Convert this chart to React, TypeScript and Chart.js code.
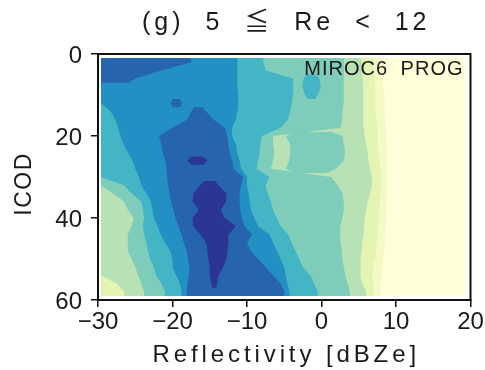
import { useEffect, useRef } from 'react';
import { Chart, registerables } from 'chart.js';

Chart.register(...registerables);

// ---- data -------------------------------------------------------------
const TITLE = '(g) 5 \u2266 Re < 12';
const X_LABEL = 'Reflectivity [dBZe]';
const Y_LABEL = 'ICOD';
const PANEL_LABEL = 'MIROC6 PROG';

const X_TICKS = [-30, -20, -10, 0, 10, 20];
const Y_TICKS = [0, 20, 40, 60];

// frequency class colours, lowest (0) to highest (8)
const LEVEL_COLORS = [
  '#ffffd9',
  '#f4fac6',
  '#e4f4b2',
  '#b8e2b5',
  '#7ecdbb',
  '#44b5c5',
  '#2390c3',
  '#2664ad',
  '#2a3594',
];

// extent of the gridded data in dBZe
const X_DATA_MIN = -29.6;
const X_DATA_MAX = 19.3;

// ICOD row centres (each row spans +-1)
const ROW_ICOD = [2, 4, 6, 8, 10, 12, 14, 16, 18, 20, 22, 24, 26, 28, 30, 32, 34, 36, 38, 40, 42, 44, 46, 48, 50, 52, 54, 56, 58];
const ROW_HALF = 1;

// per row: class, break (dBZe), class, break, ... , class
const ROW_RUNS = [
  '7 -17.5 6 -11.3 5 -7.8 4 3 3 5.4 2 7 1 8 0',
  '7 -21.5 6 -11.3 5 -7.5 4 3 3 5.5 2 7 1 8 0',
  '7 -25 6 -11.3 5 -3.8 4 -2.4 5 -0.3 4 3 3 5.5 2 7.1 1 8.2 0',
  '6 -11.3 5 -3.8 4 -2.6 5 -0.1 4 3 3 5.6 2 7.2 1 8.3 0',
  '6 -11.2 5 -3.8 4 -2.2 5 -0.5 4 3 3 5.6 2 7.2 1 8.4 0',
  '6 -20.3 7 -18.7 6 -11.2 5 -4 4 3 3 5.6 2 7.3 1 8.5 0',
  '5 -28.3 6 -17.5 7 -15.5 6 -11.3 5 -4.2 4 2.8 3 5.6 2 7.3 1 8.5 0',
  '5 -27.7 6 -18 7 -14.5 6 -11.5 5 -4.5 4 2.8 3 5.7 2 7.4 1 8.6 0',
  '5 -27.3 6 -20 7 -13 6 -12 5 -5.5 4 2.6 3 5.7 2 7.5 1 8.6 0',
  '5 -27 6 -21.8 7 -12.7 6 -12 5 -8 4 -6.5 3 -4.8 4 2.8 3 5.8 2 7.5 1 8.7 0',
  '5 -26.6 6 -21.5 7 -12.5 6 -11.5 5 -8.2 4 -6.5 3 -4.2 4 3 3 6 2 7.6 1 8.7 0',
  '5 -26 6 -21.3 7 -12.3 6 -11.3 5 -8.3 4 -6.3 3 -4.2 4 3.2 3 6.2 2 7.7 1 8.8 0',
  '5 -25.4 6 -21 7 -18 8 -15.3 7 -12 6 -11 5 -8.5 4 -6.5 3 -4.3 4 3 3 6.3 2 7.8 1 8.8 0',
  '5 -25 6 -20.8 7 -11.8 6 -10.8 5 -8.7 4 -6.8 3 -4.8 4 2 3 6.5 2 7.9 1 8.8 0',
  '5 -24.5 6 -20.7 7 -10.5 6 -10 5 -7 4 1.3 3 6.8 2 8 1 8.8 0',
  '4 -26.5 5 -24.2 6 -20.6 7 -16.3 8 -13.8 7 -10.8 6 -10 5 -7.5 4 2.2 3 6.8 2 8 1 8.8 0',
  '3 -28 4 -25.5 5 -23.5 6 -20.4 7 -17.2 8 -12.8 7 -11 6 -9.8 5 -7.2 4 2.8 3 6.5 2 7.9 1 8.8 0',
  '3 -26.5 4 -24.2 5 -22.9 6 -20.2 7 -17.3 8 -12.8 7 -11 6 -9.6 5 -6.8 4 3 3 6.2 2 7.8 1 8.7 0',
  '3 -26 4 -24 5 -22.7 6 -19.9 7 -16.5 8 -13.5 7 -10.9 6 -9.5 5 -6.5 4 3 3 6 2 7.8 1 8.7 0',
  '3 -25.2 4 -23.8 5 -22.5 6 -19.6 7 -17.3 8 -13 7 -10.7 6 -9 5 -6 4 2.8 3 5.8 2 7.7 1 8.7 0',
  '3 -25.5 4 -24 5 -22 6 -19.2 7 -17.2 8 -11.5 7 -10.3 6 -8.5 5 -5.5 4 2.5 3 5.7 2 7.6 1 8.6 0',
  '3 -26 4 -23.8 5 -21.6 6 -18.8 7 -16.3 8 -12.5 7 -9.3 6 -7 5 -4.5 4 2.5 3 5.6 2 7.5 1 8.6 0',
  '3 -26 4 -23.5 5 -21 6 -18.5 7 -15.5 8 -12.5 7 -10 6 -6.5 5 -4 4 2.6 3 5.5 2 7.4 1 8.5 0',
  '3 -26 4 -23.3 5 -20.3 6 -18.1 7 -15.3 8 -12.6 7 -9.5 6 -6 5 -3.5 4 2.7 3 5.4 2 7.3 1 8.4 0',
  '3 -25.5 4 -23 5 -20 6 -17.9 7 -15.2 8 -12.8 7 -8.5 6 -5.5 5 -3 4 2.8 3 5.3 2 7.2 1 8.3 0',
  '3 -25 4 -22.5 5 -20 6 -17.7 7 -15 8 -13.2 7 -7.5 6 -5 5 -2.5 4 3 3 5.2 2 7 1 8.2 0',
  '3 -24.6 4 -22.2 5 -19.5 6 -17.8 7 -15 8 -13.8 7 -6.5 6 -4.8 5 -1.5 4 3.2 3 5.2 2 6.8 1 8.1 0',
  '2 -27.5 3 -24.2 4 -21.5 5 -19 6 -18 7 -14.8 8 -14 7 -5.5 6 -4.6 5 -1 4 3.5 3 5.5 2 7 1 8 0',
  '2 -26.5 3 -23.8 4 -21 5 -18.8 6 -18.1 7 -5 6 -4.3 5 -0.5 4 3.8 3 6 2 7 1 7.9 0',
];

// ---- turn the rows into filled contour shapes --------------------------
type Pt = { x: number; y: number };
type Run = { level: number; x0: number; x1: number };
type Chain = { start: number; segs: [number, number][] };

const CAP_TAPER = 0.2;

function parseRow(row: string): Run[] {
  const t = row.trim().split(/\s+/).map(Number);
  const runs: Run[] = [];
  let start = X_DATA_MIN;
  for (let i = 0; i < t.length; i += 2) {
    const end = i + 1 < t.length ? t[i + 1] : X_DATA_MAX;
    runs.push({ level: t[i], x0: start, x1: end });
    start = end;
  }
  return runs;
}

function intervalsAtLeast(runs: Run[], k: number): [number, number][] {
  const out: [number, number][] = [];
  for (const r of runs) {
    if (r.level < k) continue;
    const last = out[out.length - 1];
    if (last && Math.abs(last[1] - r.x0) < 1e-9) last[1] = r.x1;
    else out.push([r.x0, r.x1]);
  }
  return out;
}

function capSeg(seg: [number, number]): [number, number] {
  const [a, b] = seg;
  const w = b - a;
  const aa = a <= X_DATA_MIN + 1e-9 ? a : a + w * CAP_TAPER;
  const bb = b >= X_DATA_MAX - 1e-9 ? b : b - w * CAP_TAPER;
  return [aa, bb];
}

function chainPolygon(c: Chain): Pt[] {
  const n = c.segs.length;
  const ys = c.segs.map((_, i) => ROW_ICOD[c.start + i]);
  const yTop = ys[0] - ROW_HALF;
  const yBot = ys[n - 1] + ROW_HALF;
  const top = c.start === 0 ? c.segs[0] : capSeg(c.segs[0]);
  const bot = c.start + n - 1 === ROW_ICOD.length - 1 ? c.segs[n - 1] : capSeg(c.segs[n - 1]);
  const left: Pt[] = [{ x: top[0], y: yTop }];
  c.segs.forEach((s, i) => left.push({ x: s[0], y: ys[i] }));
  left.push({ x: bot[0], y: yBot });
  const right: Pt[] = [{ x: bot[1], y: yBot }];
  for (let i = n - 1; i >= 0; i--) right.push({ x: c.segs[i][1], y: ys[i] });
  right.push({ x: top[1], y: yTop });
  return left.concat(right);
}

function buildDatasets() {
  const rows = ROW_RUNS.map(parseRow);
  const datasets: any[] = [];
  for (let k = 0; k < LEVEL_COLORS.length; k++) {
    const chains: Chain[] = [];
    let active: Chain[] = [];
    rows.forEach((runs, r) => {
      const used = new Set<Chain>();
      const next: Chain[] = [];
      for (const [a, b] of intervalsAtLeast(runs, k)) {
        let best: Chain | null = null;
        let bestOv = 0;
        for (const c of active) {
          if (used.has(c)) continue;
          const [pa, pb] = c.segs[c.segs.length - 1];
          const ov = Math.min(b, pb) - Math.max(a, pa);
          if (ov > bestOv) {
            bestOv = ov;
            best = c;
          }
        }
        let c = best;
        if (c) used.add(c);
        else {
          c = { start: r, segs: [] };
          chains.push(c);
        }
        c.segs.push([a, b]);
        next.push(c);
      }
      active = next;
    });
    chains.forEach((c, i) => {
      datasets.push({
        label: 'class ' + k + '.' + i,
        data: chainPolygon(c),
        backgroundColor: LEVEL_COLORS[k],
        borderColor: 'rgba(0,0,0,0)',
        borderWidth: 0,
        pointRadius: 0,
        pointHoverRadius: 0,
        tension: 0,
        fill: 'shape',
        order: 100 - k,
      });
    });
  }
  return datasets;
}

const FONT = '"Liberation Sans", "Noto Sans CJK JP", "DejaVu Sans", sans-serif';
const TEXT_COLOR = '#1a1a1a';

const minusFmt = (v: number) => (v < 0 ? '\u2212' + Math.abs(v) : String(v));

const decorPlugin = {
  id: 'decor',
  afterDatasetsDraw(chart: any) {
    const { ctx, chartArea: a } = chart;
    ctx.save();
    ctx.strokeStyle = '#111';
    ctx.lineWidth = 2;
    ctx.strokeRect(a.left, a.top, a.right - a.left, a.bottom - a.top);
    ctx.restore();
  },
  afterDraw(chart: any) {
    const { ctx, chartArea: a } = chart;
    const cx = (a.left + a.right) / 2;
    ctx.save();
    ctx.fillStyle = TEXT_COLOR;

    ctx.font = '25px ' + FONT;
    ctx.letterSpacing = '4px';
    ctx.wordSpacing = '10px';
    ctx.textAlign = 'center';
    ctx.textBaseline = 'alphabetic';
    ctx.fillText(TITLE, cx + 2, 30);

    ctx.font = '24px ' + FONT;
    ctx.letterSpacing = '3.9px';
    ctx.wordSpacing = '0px';
    ctx.fillText(X_LABEL, cx + 2, 362);

    ctx.font = '20px ' + FONT;
    ctx.letterSpacing = '1px';
    ctx.wordSpacing = '6px';
    ctx.textAlign = 'right';
    ctx.fillText(PANEL_LABEL, a.right - 7, a.top + 21);

    ctx.font = '23px ' + FONT;
    ctx.letterSpacing = '1.5px';
    ctx.wordSpacing = '0px';
    ctx.textAlign = 'center';
    ctx.textBaseline = 'middle';
    ctx.translate(25, 185);
    ctx.rotate(-Math.PI / 2);
    ctx.fillText(Y_LABEL, 1, 0);
    ctx.restore();
  },
};

export default function App() {
  const ref = useRef<HTMLCanvasElement>(null);
  useEffect(() => {
    const canvas = ref.current;
    if (!canvas) return;
    const chart = new Chart(canvas, {
      type: 'line',
      data: { datasets: buildDatasets() },
      options: {
        indexAxis: 'y',
        responsive: false,
        animation: false,
        devicePixelRatio: 1,
        events: [],
        layout: { padding: { left: 0, top: 54, right: 14.5, bottom: 0 } },
        plugins: {
          legend: { display: false },
          tooltip: { enabled: false },
          title: { display: false },
          filler: { propagate: false },
        },
        elements: { point: { radius: 0 }, line: { tension: 0 } },
        scales: {
          x: {
            type: 'linear',
            position: 'bottom',
            min: -30,
            max: 20,
            offset: false,
            afterBuildTicks: (s: any) => {
              s.ticks = X_TICKS.map((v) => ({ value: v }));
            },
            ticks: {
              callback: (v: any) => minusFmt(Number(v)),
              font: { size: 24, family: FONT },
              color: TEXT_COLOR,
              padding: 1,
              maxRotation: 0,
              autoSkip: false,
            },
            grid: { display: true, drawOnChartArea: false, drawTicks: true, tickLength: 7, color: '#111', lineWidth: 1.5, offset: false },
            border: { display: true, color: '#111', width: 2 },
            afterFit: (s: any) => {
              s.height = 70;
            },
          },
          y: {
            type: 'linear',
            position: 'left',
            min: 0,
            max: 60,
            reverse: true,
            offset: false,
            afterBuildTicks: (s: any) => {
              s.ticks = Y_TICKS.map((v) => ({ value: v }));
            },
            ticks: {
              font: { size: 24, family: FONT },
              color: TEXT_COLOR,
              padding: 9,
              labelOffset: 2.5,
              autoSkip: false,
            },
            grid: { display: true, drawOnChartArea: false, drawTicks: true, tickLength: 7, color: '#111', lineWidth: 1.5, offset: false },
            border: { display: true, color: '#111', width: 2 },
            afterFit: (s: any) => {
              s.width = 98;
            },
          },
        },
      } as any,
      plugins: [decorPlugin],
    });
    return () => chart.destroy();
  }, []);

  return (
    <div style={{ position: 'fixed', left: 0, top: 0, width: 485, height: 370, background: '#ffffff' }}>
      <canvas ref={ref} width={485} height={370} style={{ display: 'block', width: 485, height: 370 }} />
    </div>
  );
}
